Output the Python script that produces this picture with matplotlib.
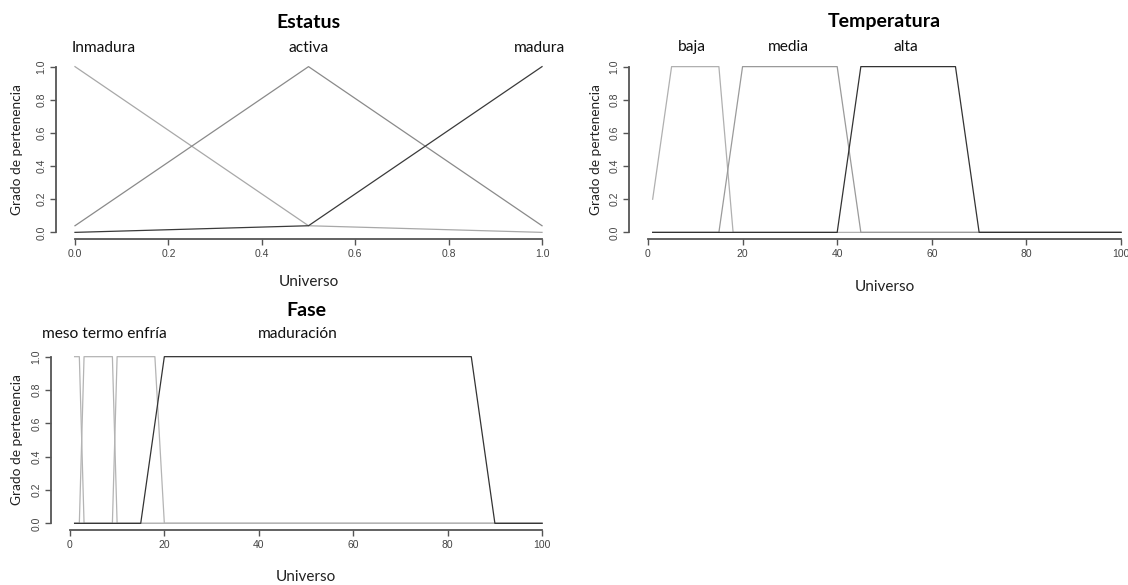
import matplotlib
matplotlib.use("Agg")
import matplotlib.pyplot as plt
import matplotlib.transforms as mtransforms

# --- datos: puntos de quiebre de cada conjunto difuso ---
estatus_x = [0.0, 0.5, 1.0]
inmadura_y = [1.0, 0.04, 0.0]
activa_y = [0.04, 1.0, 0.04]
madura_y = [0.0, 0.04, 1.0]
estatus_labels = ["Inmadura", "activa", "madura"]
estatus_label_x = [0.062, 0.5, 0.994]

baja_x = [1, 5, 15, 18, 100]
baja_y = [0.2, 1, 1, 0, 0]
media_x = [1, 15, 20, 40, 45, 100]
media_y = [0, 0, 1, 1, 0, 0]
alta_x = [1, 40, 45, 65, 70, 100]
alta_y = [0, 0, 1, 1, 0, 0]
temp_labels = ["baja", "media", "alta"]
temp_label_x = [9.3, 29.6, 54.5]

meso_x = [1, 2, 3, 100]
meso_y = [1, 1, 0, 0]
termo_x = [1, 2, 3, 9, 10, 100]
termo_y = [0, 0, 1, 1, 0, 0]
enfria_x = [1, 9, 10, 18, 20, 100]
enfria_y = [0, 0, 1, 1, 0, 0]
maduracion_x = [1, 15, 20, 85, 90, 100]
maduracion_y = [0, 0, 1, 1, 0, 0]
fase_labels = ["meso termo enfría", "maduración"]
fase_label_x = [7.2, 48.3]

y_ticks = [0.0, 0.2, 0.4, 0.6, 0.8, 1.0]
estatus_ticks = [0.0, 0.2, 0.4, 0.6, 0.8, 1.0]
universo_ticks = [0, 20, 40, 60, 80, 100]

W, H = 1128, 585
TEXT_FONT = ["Lato", "DejaVu Sans"]
TICK_FONT = ["Liberation Sans", "DejaVu Sans"]
AXIS_COLOR = "#555555"


def px_axes(left, top, right, bottom):
    # rectangulo en pixeles (origen arriba-izquierda) -> fraccion de figura
    return [left / W, 1 - bottom / H, (right - left) / W, (bottom - top) / H]


def r_style(ax, xticks, xfmt, title, title_y, labels, label_x, label_y, xlabel_y, ylabel_x):
    lo, hi = xticks[0], xticks[-1]
    pad = 0.04 * (hi - lo)
    ax.set_xlim(lo - pad, hi + pad)
    ax.set_ylim(-0.04, 1.04)
    for s in ["top", "right"]:
        ax.spines[s].set_visible(False)
    for s in ["left", "bottom"]:
        ax.spines[s].set_color(AXIS_COLOR)
        ax.spines[s].set_linewidth(1.3)
    ax.spines["bottom"].set_bounds(lo, hi)
    ax.spines["left"].set_bounds(0, 1)
    ax.set_xticks(xticks)
    ax.set_xticklabels([xfmt(v) for v in xticks], family=TICK_FONT, fontsize=7.5, color="#444444")
    ax.set_yticks(y_ticks)
    ax.set_yticklabels([f"{v:.1f}" for v in y_ticks], family=TICK_FONT, fontsize=7.5,
                       color="#444444", rotation=90, va="center")
    ax.tick_params(direction="out", length=4, width=1.0, color=AXIS_COLOR, pad=3)

    bb = ax.get_position()
    ax_w = bb.width * W
    ax_h = bb.height * H
    ax.set_ylabel("Grado de pertenencia", family=TEXT_FONT, fontsize=9.8, color="#222222")
    ax.yaxis.set_label_coords((ylabel_x - bb.x0 * W) / ax_w, 0.5)
    ax.yaxis.label.set_va("center")
    ax.set_xlabel("Universo", family=TEXT_FONT, fontsize=11, color="#222222")
    bottom_px = (1 - bb.y0) * H
    ax.xaxis.set_label_coords(0.5, -(xlabel_y - bottom_px) / ax_h)
    ax.xaxis.label.set_va("center")

    fig = ax.figure
    fig.text((bb.x0 + bb.x1) / 2, 1 - title_y / H, title, ha="center", va="center",
             family=TEXT_FONT, fontsize=14, fontweight="bold", color="black")
    trans = mtransforms.blended_transform_factory(ax.transData, fig.transFigure)
    for lab, lx in zip(labels, label_x):
        ax.text(lx, 1 - label_y / H, lab, transform=trans, ha="center", va="center",
                family=TEXT_FONT, fontsize=11.2, color="#111111", clip_on=False)


fig = plt.figure(figsize=(W / 100, H / 100), dpi=100)
fig.patch.set_facecolor("white")

# Estatus
ax1 = fig.add_axes(px_axes(56.3, 60, 560.7, 239))
ax1.plot(estatus_x, inmadura_y, color="#a8a8a8", lw=0.9)
ax1.plot(estatus_x, activa_y, color="#8a8a8a", lw=0.9)
ax1.plot(estatus_x, madura_y, color="#3a3a3a", lw=0.9)
r_style(ax1, estatus_ticks, lambda v: f"{v:.1f}", "Estatus", 22,
        estatus_labels, estatus_label_x, 48, 282, 17)

# Temperatura
ax2 = fig.add_axes(px_axes(629, 60, 1140, 239))
ax2.plot(baja_x, baja_y, color="#b0b0b0", lw=0.9)
ax2.plot(media_x, media_y, color="#9a9a9a", lw=0.9)
ax2.plot(alta_x, alta_y, color="#333333", lw=0.9)
r_style(ax2, universo_ticks, lambda v: f"{v:d}", "Temperatura", 22,
        temp_labels, temp_label_x, 47, 287, 596)

# Fase
ax3 = fig.add_axes(px_axes(51, 350, 561, 530))
ax3.plot(meso_x, meso_y, color="#b4b4b4", lw=0.9)
ax3.plot(termo_x, termo_y, color="#b4b4b4", lw=0.9)
ax3.plot(enfria_x, enfria_y, color="#b4b4b4", lw=0.9)
ax3.plot(maduracion_x, maduracion_y, color="#333333", lw=0.9)
r_style(ax3, universo_ticks, lambda v: f"{v:d}", "Fase", 310,
        fase_labels, fase_label_x, 334, 577, 17)

fig.savefig("out.png", dpi=100, facecolor="white")
